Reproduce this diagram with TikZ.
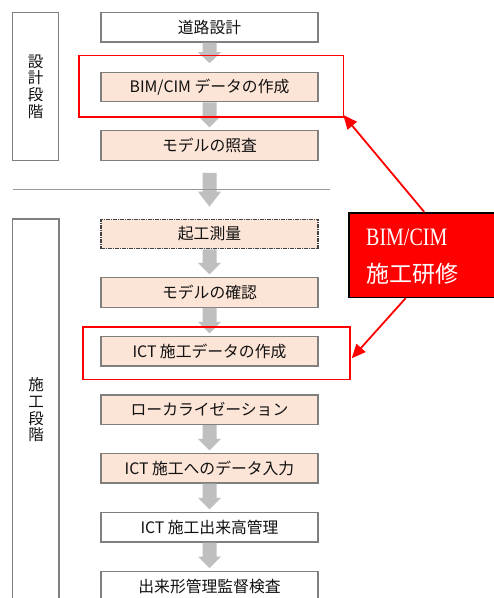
\documentclass[tikz,border=0pt]{standalone}
\usepackage{fontspec}
\usetikzlibrary{arrows.meta,calc}
\newfontfamily\jp{Noto Sans CJK JP}
\newfontfamily\calloutlatin[FakeStretch=0.8]{Liberation Serif}
\definecolor{peach}{HTML}{FCE4D6}
\definecolor{boxgray}{HTML}{7F7F7F}
\definecolor{arrowgray}{HTML}{BFBFBF}
\definecolor{textdark}{HTML}{111111}
\definecolor{linegray}{HTML}{999999}
\newcommand{\blockarrow}[5]{%
  \fill[arrowgray] ($(#1.south)+(-7,#3)$) -- ($(#2.north)+(-7,-#4-#5)$)
    -- ($(#2.north)+(-11.5,-#4-#5)$) -- ($(#2.north)+(0,-#4)$)
    -- ($(#2.north)+(11.5,-#4-#5)$) -- ($(#2.north)+(7,-#4-#5)$)
    -- ($(#1.south)+(7,#3)$) -- cycle;}
\begin{document}
\begin{tikzpicture}[x=1pt,y=-1pt,
  mainbox/.style={draw=boxgray, line width=1.2pt, minimum width=217pt,
    minimum height=29.5pt, inner sep=0pt, text=textdark,
    font=\jp\fontsize{15.8}{18}\selectfont},
  fillbox/.style={mainbox, fill=peach},
  plainbox/.style={mainbox, fill=white},
  phasebox/.style={draw=boxgray, line width=1.2pt, fill=white, inner sep=0pt},
  phasetext/.style={align=center, text=textdark, inner sep=0pt,
    font=\jp\fontsize{15.5}{16.7}\selectfont},
  redframe/.style={draw=red, line width=1.6pt, inner sep=0pt},
  redarrow/.style={draw=red, line width=1.8pt, -{Triangle[length=14pt,width=12pt]}},
  callouttext/.style={text=white, anchor=west, inner sep=0pt}]
\useasboundingbox (0,0) rectangle (494,598);
\fill[white] (0,0) rectangle (494,598);

% phase boxes
\node[phasebox, minimum width=46pt, minimum height=147.6pt] (p1) at (35.7,86.5) {};
\node[phasetext] (p1t) at (p1.center) {設\\計\\段\\階};
\node[phasebox, minimum width=46.3pt, minimum height=383pt] (p2) at (35.85,410.5) {};
\node[phasetext] (p2t) at (36,410) {施\\工\\段\\階};

% main boxes
\node[plainbox] (b1) at (209.5,27.2) {道路設計};
\node[fillbox] (b2) at (209.5,87) {BIM/CIM データの作成};
\node[fillbox] (b3) at (209.5,145.5) {モデルの照査};
\node[fillbox, draw=textdark!80, dash pattern=on 4pt off 1pt on 1pt off 1pt] (b4) at (209.5,234) {起工測量};
\node[fillbox] (b5) at (209.5,292.5) {モデルの確認};
\node[fillbox] (b6) at (209.5,351.3) {ICT 施工データの作成};
\node[fillbox] (b7) at (209.5,409.7) {ローカライゼーション};
\node[fillbox] (b8) at (209.5,468.3) {ICT 施工へのデータ入力};
\node[plainbox] (b9) at (209.5,527.2) {ICT 施工出来高管理};
\node[plainbox] (b10) at (209.5,586) {出来形管理監督検査};

% gray block arrows
\blockarrow{b1}{b2}{0}{8.5}{11}
\blockarrow{b2}{b3}{0}{2.7}{11.5}
\blockarrow{b3}{b4}{12}{12}{15}
\blockarrow{b4}{b5}{0}{2.7}{11.5}
\blockarrow{b5}{b6}{0}{2.7}{11.5}
\blockarrow{b7}{b8}{0}{2.5}{11.5}
\blockarrow{b8}{b9}{0}{2.5}{11.5}
\blockarrow{b9}{b10}{0}{2.5}{11.5}

% phase separator
\coordinate (s1) at (12.7,189.3);
\coordinate (s2) at (330,189.3);
\draw[linegray, line width=1.3pt] (s1) -- (s2);

% red frames
\node[redframe, minimum width=264.3pt, minimum height=61.7pt] (f1) at (211.15,86.15) {};
\node[redframe, minimum width=267.3pt, minimum height=52.6pt] (f2) at (216.35,353) {};

% callout
\node[fill=red, draw=black, line width=1.6pt, minimum width=151pt, minimum height=84.6pt, inner sep=0pt] (c) at (424.5,255) {};
\node[callouttext, font=\calloutlatin\fontsize{25}{28}\selectfont] (c1) at (366,237) {BIM/CIM};
\node[callouttext, font=\jp\fontsize{23}{26}\selectfont] (c2) at (366,274) {施工研修};

\coordinate (a1s) at ($(c.north west)+(76,0)$);
\coordinate (a1e) at (343.3,115);
\coordinate (a2s) at ($(c.south west)+(57.5,0)$);
\coordinate (a2e) at (351.7,358.3);
\draw[redarrow] (a1s) -- (a1e);
\draw[redarrow] (a2s) -- (a2e);
\end{tikzpicture}
\end{document}
